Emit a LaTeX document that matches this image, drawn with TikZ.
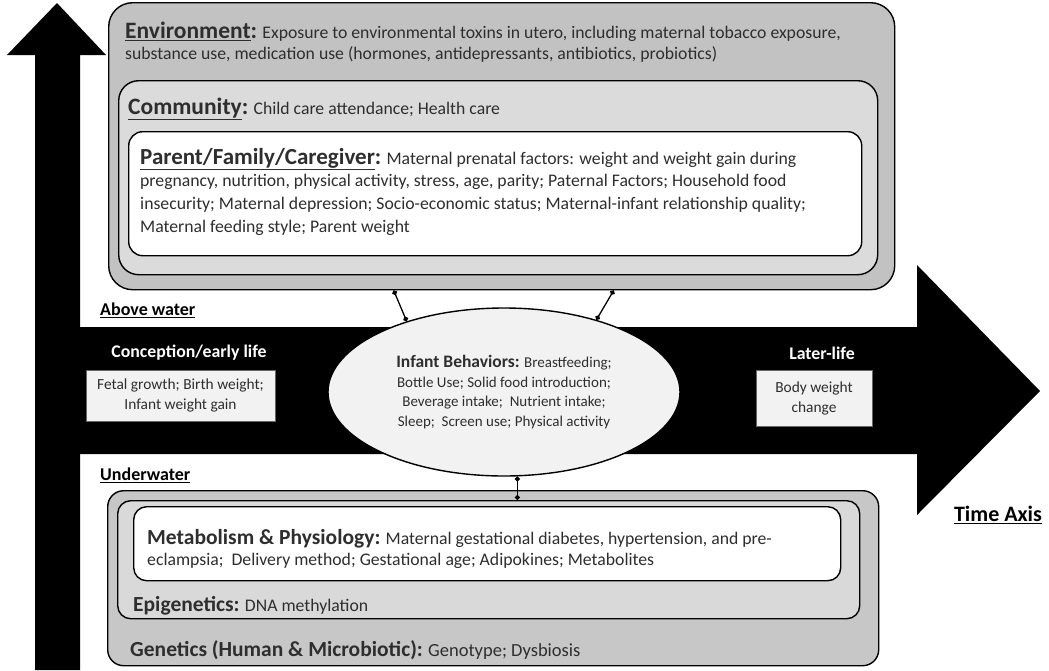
\documentclass[tikz,border=0pt]{standalone}
\usepackage{fontspec}
\setmainfont{Carlito}
\usetikzlibrary{positioning,arrows.meta,shapes.geometric}

\definecolor{envgray}{gray}{0.76}
\definecolor{commgray}{gray}{0.86}
\definecolor{genegray}{gray}{0.78}
\definecolor{epigray}{gray}{0.85}
\definecolor{boxfill}{gray}{0.95}
\definecolor{bodyink}{gray}{0.18}

\begin{document}
\begin{tikzpicture}[
    x=1pt, y=-1pt,
    font=\fontsize{17.7}{21}\selectfont,
    layer/.style={
        draw,
        line width=1.4pt,
        rounded corners=#1,
        anchor=north west,
        inner sep=0pt
    },
    bodytext/.style={
        anchor=north west,
        align=left,
        inner sep=0pt,
        text=bodyink
    },
    linetext/.style={
        anchor=base west,
        inner sep=0pt,
        text=bodyink
    },
    stagebox/.style={
        draw=black!60,
        fill=boxfill,
        inner sep=0pt,
        align=center,
        text=bodyink,
        font=\fontsize{15.4}{20}\selectfont
    },
    stagelabel/.style={
        text=white,
        font=\fontsize{17.8}{20}\selectfont\bfseries
    },
    waterlabel/.style={
        anchor=west,
        inner sep=0pt,
        font=\fontsize{18}{20}\selectfont\bfseries
    },
    link/.style={
        {Circle[length=5pt]}-{Circle[length=5pt]},
        line width=1.3pt
    }
]

\useasboundingbox (0,0) rectangle (1049,670);

% Axes
\fill (35,670) -- (35,55) -- (7,55) -- (57,3) -- (106,55) -- (80,55) -- (80,670) -- cycle;
\fill (78,327) -- (917,327) -- (917,265) -- (1040,391) -- (917,515) -- (917,454) -- (78,454) -- cycle;

% Above water layers
\node[layer=24pt, fill=envgray, minimum width=786pt, minimum height=287pt] (env) at (108,2) {};
\node[layer=20pt, fill=commgray, minimum width=759pt, minimum height=194pt] (comm) at (118,80) {};
\node[layer=14pt, fill=white, minimum width=733pt, minimum height=124pt] (family) at (128,131) {};

\node[bodytext] (envtext) at (125,22) {%
    {\fontsize{23.5}{21}\selectfont\bfseries\underline{Environment}:} Exposure to environmental toxins in utero, including maternal tobacco exposure,\\
    substance use, medication use (hormones, antidepressants, antibiotics, probiotics)};
\node[linetext] (commtext) at (128,114) {%
    {\fontsize{23.5}{21}\selectfont\bfseries\underline{Community}:} Child care attendance; Health care};
\node[bodytext, font=\fontsize{17.7}{22.6}\selectfont] (familytext) at (140,148) {%
    {\fontsize{23}{22.6}\selectfont\bfseries\underline{Parent/Family/Caregiver}:} Maternal prenatal factors: weight and weight gain during\\
    pregnancy, nutrition, physical activity, stress, age, parity; Paternal Factors; Household food\\
    insecurity; Maternal depression; Socio-economic status; Maternal-infant relationship quality;\\
    Maternal feeding style; Parent weight};

% Underwater layers
\node[layer=16pt, fill=genegray, minimum width=771pt, minimum height=175pt] (gene) at (107,490) {};
\node[layer=13pt, fill=epigray, minimum width=742pt, minimum height=118pt] (epi) at (117,500) {};
\node[layer=13pt, fill=white, minimum width=707pt, minimum height=74pt] (metab) at (133,506) {};

\node[bodytext] (metabtext) at (147,529) {%
    {\fontsize{21.5}{22}\selectfont\bfseries Metabolism \& Physiology:} Maternal gestational diabetes, hypertension, and pre-\\
    eclampsia;\ \ Delivery method; Gestational age; Adipokines; Metabolites};
\node[linetext] (epitext) at (133,611) {%
    {\fontsize{21.5}{22}\selectfont\bfseries Epigenetics:} DNA methylation};
\node[linetext] (genetext) at (130,656) {%
    {\fontsize{21.5}{22}\selectfont\bfseries Genetics (Human \& Microbiotic):} {\fontsize{18.5}{22}\selectfont Genotype; Dysbiosis}};

% Water line labels
\node[waterlabel] (above) at (100,310) {\underline{Above water}};
\node[waterlabel] (under) at (100,475) {\underline{Underwater}};
\node[font=\fontsize{22}{24}\selectfont\bfseries] (time) at (998,515) {\underline{Time Axis}};

% Life stages
\node[stagelabel] (early) at (189,353) {Conception/early life};
\node[stagebox, minimum width=189pt, minimum height=51pt] (earlybox) at (180.5,395.5) {Fetal growth; Birth weight;\\Infant weight gain};
\node[stagelabel] (later) at (822,353) {Later-life};
\node[stagebox, minimum width=116pt, minimum height=56pt] (laterbox) at (814,398) {Body weight\\change};

% Infant behaviors
\node[ellipse, draw, line width=1.4pt, fill=boxfill, minimum width=352pt, minimum height=168pt,
      align=center, text=bodyink, font=\fontsize{15}{19.5}\selectfont] (infant) at (504,392) {%
    {\fontsize{17.5}{19.5}\selectfont\bfseries Infant Behaviors:} Breastfeeding;\\
    Bottle Use; Solid food introduction;\\
    Beverage intake;\ \ Nutrient intake;\\
    Sleep;\ \ Screen use; Physical activity};

% Links
\draw[link] (infant.144) -- ([xshift=-108pt]env.south);
\draw[link] (infant.38) -- ([xshift=112pt]env.south);
\coordinate (infantlow) at (infant.-81);
\draw[link] (infantlow) -- (infantlow |- epi.north);

\end{tikzpicture}
\end{document}
